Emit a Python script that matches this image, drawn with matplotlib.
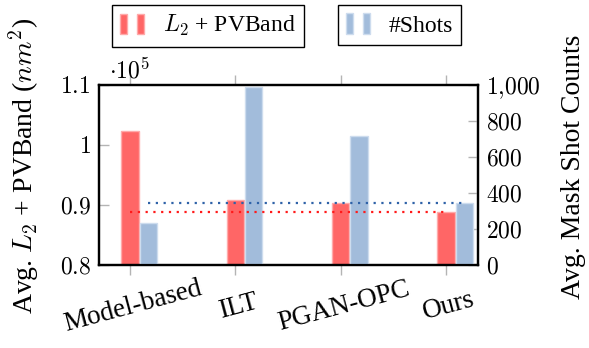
import matplotlib
matplotlib.use('Agg')
import matplotlib.pyplot as plt
from matplotlib.patches import Patch
from matplotlib.legend_handler import HandlerTuple
from matplotlib.ticker import FuncFormatter
import numpy as np

plt.rcParams['font.family'] = 'serif'
plt.rcParams['font.serif'] = ['Liberation Serif']
plt.rcParams['mathtext.fontset'] = 'cm'
plt.rcParams['font.size'] = 17

methods = ['Model-based', 'ILT', 'PGAN-OPC', 'Ours']
l2_pvband = [102400, 90800, 90300, 88900]   # nm^2
shots = [235, 987, 718, 344]

red_fill, red_edge = '#ff6666', '#ffaaaa'
blue_fill, blue_edge = '#a2bcdb', '#cddcee'
tick_grey = '#b4b4b4'

fig = plt.figure(figsize=(5.89, 3.48), dpi=100)
ax = fig.add_axes([0.168, 0.2385, 0.6435, 0.517])
ax2 = ax.twinx()

x = np.arange(len(methods))
w = 0.165
off = 0.175

ax.bar(x, l2_pvband, width=w, color=red_fill, edgecolor=red_edge, linewidth=1.0, zorder=2)
ax2.bar(x + off, shots, width=w, color=blue_fill, edgecolor=blue_edge, linewidth=1.0, zorder=2)

# reference levels at the "Ours" values
ax2.plot([x[0], x[-1]], [l2_pvband[-1]] * 2, transform=ax.transData,
         color='#ff1a1a', linestyle=(0, (1, 2.5)), linewidth=1.6, zorder=5)
ax2.plot([x[0] + off, x[-1] + off], [shots[-1]] * 2,
         color='#2e62a8', linestyle=(0, (1, 2.5)), linewidth=1.6, zorder=5)

ax.set_xlim(-0.295, 3.305)
ax.set_ylim(80000, 110000)
ax2.set_ylim(0, 1000)

ax.set_yticks([80000, 90000, 100000, 110000])
ax.yaxis.set_major_formatter(FuncFormatter(lambda v, p: f'${v / 1e5:g}$'))
ax2.set_yticks([0, 200, 400, 600, 800, 1000])
ax2.yaxis.set_major_formatter(FuncFormatter(
    lambda v, p: '$1{,}000$' if v == 1000 else f'${int(v)}$'))

ax.set_xticks(x)
ax.set_xticklabels(methods, rotation=15, rotation_mode='anchor', ha='center', va='top',
                   fontsize=19.5)

ax.tick_params(axis='y', direction='in', length=7, width=1, color=tick_grey,
               left=True, right=False, pad=6)
ax2.tick_params(axis='y', direction='in', length=7, width=1, color=tick_grey,
                right=True, left=False, pad=6)
ax.tick_params(axis='x', direction='out', length=7, width=1, color=tick_grey,
               top=True, bottom=True, pad=14)
ax2.tick_params(axis='x', top=False, bottom=False)

for a in (ax, ax2):
    for s in a.spines.values():
        s.set_linewidth(1.6)
        s.set_color('black')

fig.text(109 / 589, 1 - 83 / 348, r'$\cdot 10^5$', ha='left', va='bottom')
fig.text(24 / 589, 1 - 166 / 348, r'Avg. $L_2$ + PVBand ($nm^2$)', rotation=90,
         ha='center', va='center', fontsize=20)
fig.text(574 / 589, 1 - 167 / 348, 'Avg. Mask Shot Counts', rotation=90,
         ha='center', va='center', fontsize=20)

leg_kw = dict(frameon=True, fancybox=False, edgecolor='black', framealpha=1,
              handlelength=1.0, handleheight=0.95, handletextpad=0.8,
              borderpad=0.35, borderaxespad=0, loc='upper left')
h_red = (Patch(facecolor=red_fill, edgecolor=red_edge), Patch(facecolor=red_fill, edgecolor=red_edge))
h_blue = (Patch(facecolor=blue_fill, edgecolor=blue_edge), Patch(facecolor=blue_fill, edgecolor=blue_edge))
leg1 = fig.legend([h_red], [r'$L_2$ + PVBand'], bbox_to_anchor=(112 / 589, 1 - 5 / 348),
                  handler_map={tuple: HandlerTuple(ndivide=None, pad=0.4)}, **leg_kw)
leg1.get_frame().set_linewidth(1.0)
leg2 = fig.legend([h_blue], ['#Shots'], bbox_to_anchor=(338 / 589, 1 - 5 / 348),
                  handler_map={tuple: HandlerTuple(ndivide=None, pad=0.4)}, **leg_kw)
leg2.get_frame().set_linewidth(1.0)

fig.savefig('out.png', dpi=100)
